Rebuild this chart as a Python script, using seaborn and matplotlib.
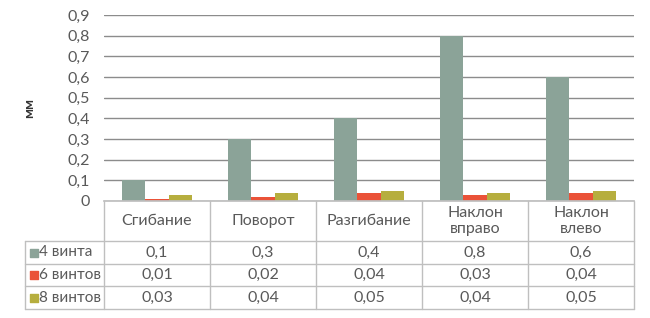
import numpy as np
import pandas as pd
import seaborn as sns
import matplotlib.pyplot as plt

categories = ["Сгибание", "Поворот", "Разгибание", "Наклон\nвправо", "Наклон\nвлево"]
series = ["4 винта", "6 винтов", "8 винтов"]
vals_4 = [0.1, 0.3, 0.4, 0.8, 0.6]
vals_6 = [0.01, 0.02, 0.04, 0.03, 0.04]
vals_8 = [0.03, 0.04, 0.05, 0.04, 0.05]
colors = ["#8BA398", "#EA5238", "#B6AE3E"]
yticks = [0, 0.1, 0.2, 0.3, 0.4, 0.5, 0.6, 0.7, 0.8, 0.9]

txt = "#595959"
line_c = "#BFBFBF"
fs = 11.5

df = pd.DataFrame({"cat": categories * 3,
                   "series": np.repeat(series, len(categories)),
                   "val": vals_4 + vals_6 + vals_8})

sns.set_theme(style="white")
plt.rcParams["font.family"] = ["Lato", "DejaVu Sans"]

W, H = 650, 318
fig = plt.figure(figsize=(W / 100, H / 100), dpi=100)

# plot area in pixels
x0, x1 = 104, 634
y_top, y_bot = 15, 201
ax = fig.add_axes([x0 / W, 1 - y_bot / H, (x1 - x0) / W, (y_bot - y_top) / H])

sns.barplot(data=df, x="cat", y="val", hue="series", palette=colors,
            width=0.66, ax=ax, legend=False, saturation=1, linewidth=0)
ax.set_xlim(-0.5, len(categories) - 0.5)
ax.set_ylim(0, 0.9)
ax.set_yticks(yticks)
ax.set_yticklabels([("%g" % t).replace(".", ",") for t in yticks], color=txt, fontsize=fs)
ax.tick_params(axis="y", length=0, pad=10)
ax.set_xticks([])
ax.set_xlabel("")
ax.set_ylabel("мм", fontsize=10, fontweight="bold", color="#333333")
ax.yaxis.set_label_coords(-0.13, 0.5)
ax.grid(axis="y", color="#8C8C8C", linewidth=1)
ax.set_axisbelow(True)
for s in ["top", "right", "left"]:
    ax.spines[s].set_visible(False)
ax.spines["bottom"].set_color(line_c)

# data table under the chart
tx0 = 25
t_top, t_bot = 201, 309
rows = [241, 264, 286, 309]
tab = fig.add_axes([tx0 / W, 1 - t_bot / H, (x1 - tx0) / W, (t_bot - t_top) / H])
left_units = (x0 - tx0) / ((x1 - x0) / len(categories))
tab.set_xlim(-0.5 - left_units, len(categories) - 0.5)
tab.set_ylim(t_bot, t_top)
tab.axis("off")

xl = -0.5 - left_units
xr = len(categories) - 0.5
kw = dict(color=line_c, linewidth=1, clip_on=False)
# horizontal lines
for r in rows:
    tab.plot([xl, xr], [r, r], **kw)
# vertical lines
for i in range(len(categories) + 1):
    tab.plot([i - 0.5, i - 0.5], [t_top, t_bot], **kw)
tab.plot([xl, xl], [rows[0], t_bot], **kw)

# header
for i, c in enumerate(categories):
    tab.text(i, (t_top + rows[0]) / 2, c, ha="center", va="center",
             color=txt, fontsize=fs, linespacing=1.2)

# rows
all_vals = [vals_4, vals_6, vals_8]
for j, (name, vals, col) in enumerate(zip(series, all_vals, colors)):
    yc = (rows[j] + rows[j + 1]) / 2
    tab.scatter([xl + 0.085], [yc], marker="s", s=28, color=col, clip_on=False)
    tab.text(xl + 0.13, yc, name, ha="left", va="center", color=txt, fontsize=11)
    for i, v in enumerate(vals):
        tab.text(i, yc, ("%g" % v).replace(".", ","), ha="center", va="center",
                 color=txt, fontsize=fs)

fig.savefig("out.png", dpi=100, facecolor="white")
